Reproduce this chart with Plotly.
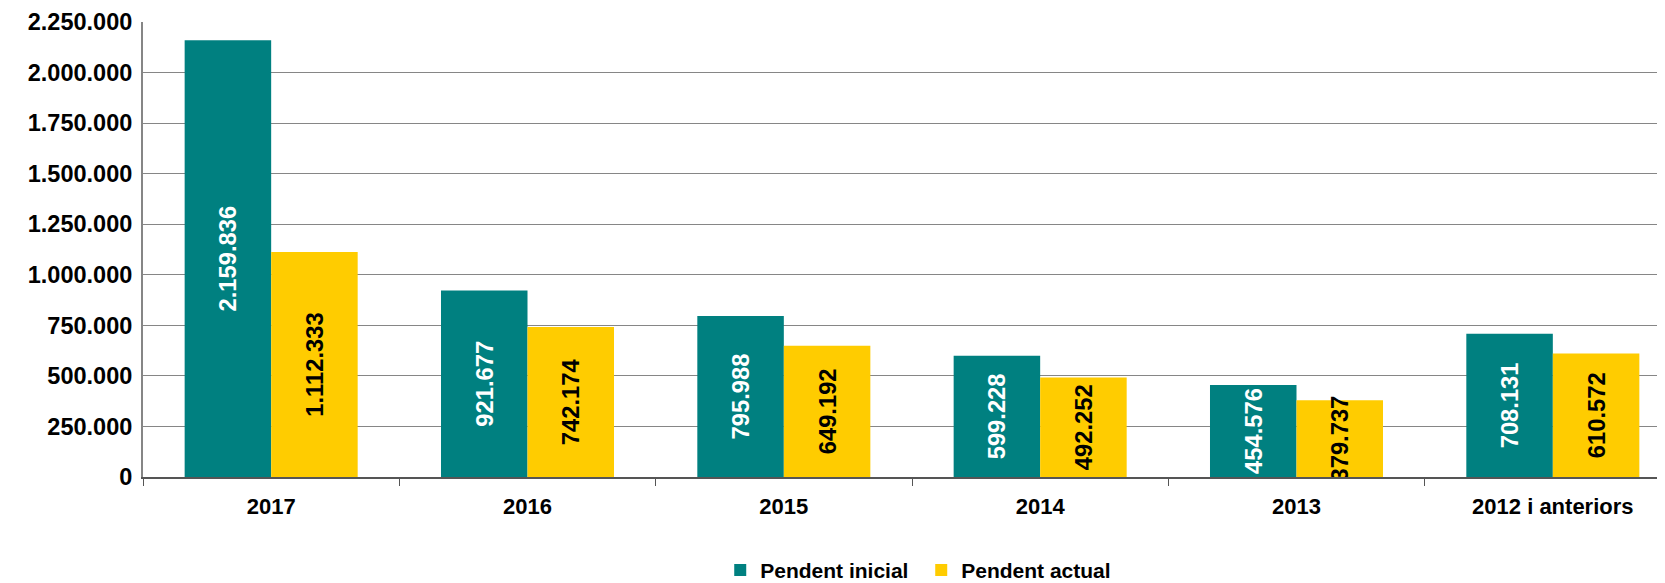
import plotly.graph_objects as go

# Data.
anys = ['2017', '2016', '2015', '2014', '2013', '2012 i anteriors']
pendent_inicial = [2159836, 921677, 795988, 599228, 454576, 708131]
pendent_actual = [1112333, 742174, 649192, 492252, 379737, 610572]
y_ticks = [0, 250000, 500000, 750000, 1000000, 1250000, 1500000, 1750000, 2000000, 2250000]

fnt = 'Liberation Sans, Arial, sans-serif'

fig = go.Figure()
fig.add_bar(x=anys, y=pendent_inicial, name='<b>Pendent inicial</b>',
            marker_color='#008080', marker_line_width=0,
            texttemplate='<b>%{y:,d}</b>', textposition='inside',
            insidetextanchor='middle', textangle=-90,
            textfont=dict(color='white', size=24, family=fnt))
fig.add_bar(x=anys, y=pendent_actual, name='<b>Pendent actual</b>',
            marker_color='#FFCC00', marker_line_width=0,
            texttemplate='<b>%{y:,d}</b>', textposition='inside',
            insidetextanchor='middle', textangle=-90,
            textfont=dict(color='black', size=24, family=fnt))

fig.update_layout(
    width=1673, height=583,
    separators=',.',
    barmode='group', bargap=0.325, bargroupgap=0,
    plot_bgcolor='white', paper_bgcolor='white',
    font=dict(family=fnt, color='black', size=22),
    margin=dict(l=135, r=0, t=14, b=104),
    uniformtext=dict(minsize=23, mode='show'),
    legend=dict(orientation='h', x=0.506, xanchor='center', y=-0.205, yanchor='middle',
                font=dict(size=21, family=fnt), itemsizing='constant',
                traceorder='normal', entrywidth=156),
    showlegend=True,
)
fig.update_yaxes(range=[0, 2250000], tickvals=y_ticks,
                 ticktext=['<b>' + f'{v:,}'.replace(',', '.') + '</b>' for v in y_ticks],
                 tickfont=dict(size=23.5), ticks='', ticklen=0, automargin=False,
                 ticklabelstandoff=4, ticklabeloverflow='allow',
                 showgrid=True, gridcolor='#868686', gridwidth=1,
                 showline=True, linecolor='#868686', linewidth=2,
                 zeroline=False)
fig.update_xaxes(tickvals=anys, ticktext=['<b>' + a + '</b>' for a in anys],
                 tickfont=dict(size=22), tickson='boundaries', ticks='outside',
                 ticklen=7, tickcolor='#555555', automargin=False,
                 ticklabelstandoff=9,
                 showline=True, linecolor='#555555', linewidth=2)

fig.write_html('out.html')
